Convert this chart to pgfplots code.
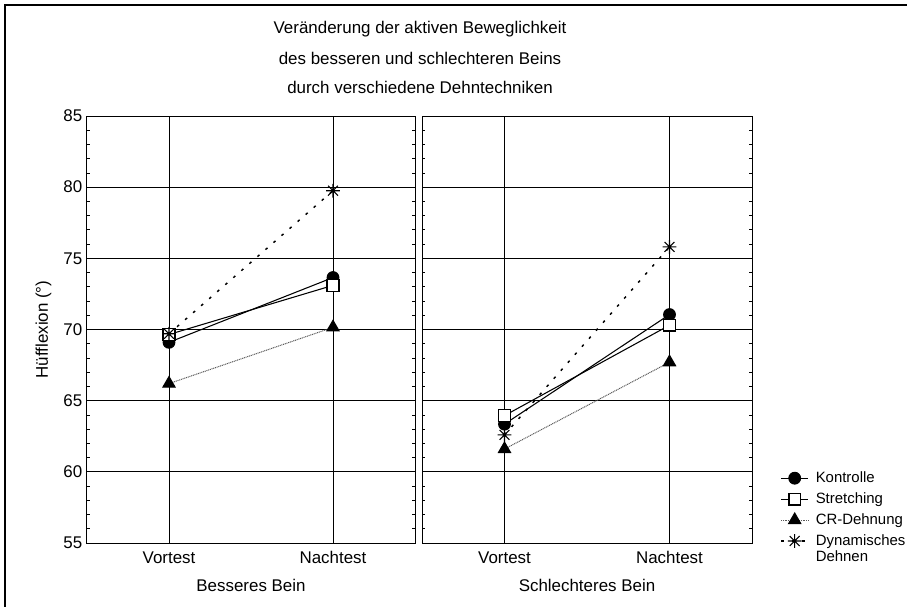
\documentclass[border=0pt]{standalone}
\usepackage{pgfplots}
\pgfplotsset{compat=1.18}
\usepackage{fontspec}
\setmainfont{Liberation Sans}
\newlength\px \setlength\px{0.75pt}
\pgfdeclareplotmark{ast8}{%
  \pgfpathmoveto{\pgfqpoint{-\pgfplotmarksize}{0pt}}\pgfpathlineto{\pgfqpoint{\pgfplotmarksize}{0pt}}%
  \pgfpathmoveto{\pgfqpoint{0pt}{-\pgfplotmarksize}}\pgfpathlineto{\pgfqpoint{0pt}{\pgfplotmarksize}}%
  \pgfpathmoveto{\pgfqpoint{-0.7071\pgfplotmarksize}{-0.7071\pgfplotmarksize}}\pgfpathlineto{\pgfqpoint{0.7071\pgfplotmarksize}{0.7071\pgfplotmarksize}}%
  \pgfpathmoveto{\pgfqpoint{-0.7071\pgfplotmarksize}{0.7071\pgfplotmarksize}}\pgfpathlineto{\pgfqpoint{0.7071\pgfplotmarksize}{-0.7071\pgfplotmarksize}}%
  \pgfusepathqstroke}
\newcommand\lblfont{\fontsize{12.7}{14}\selectfont}
\newcommand\legfont{\fontsize{11.2}{13}\selectfont}
\newcommand\ttlfont{\fontsize{12.7}{14}\selectfont}
\pgfplotsset{
  panel/.style={
    scale only axis, height=427\px,
    xmin=-0.5, xmax=1.5, ymin=55, ymax=85,
    xtick={0,1}, xticklabels={Vortest,Nachtest},
    ytick={55,60,...,85}, minor y tick num=4,
    grid=major, major grid style={black, line width=0.75pt},
    axis line style={line width=0.75pt},
    tick align=inside, major tick length=3\px, minor tick length=3\px,
    xtick style={draw=none},
    every tick/.style={black, line width=0.6pt},
    tick label style={font=\lblfont},
    label style={font=\lblfont},
    /pgf/number format/assume math mode=true,
    xticklabel style={yshift=-4\px},
    xlabel style={yshift=-6\px},
    ylabel style={yshift=3\px},
    clip=false,
  },
  kon/.style={black, line width=0.8pt, mark=*, mark size=4.4pt, mark options={solid}},
  str/.style={black, line width=0.8pt, mark=square*, mark size=4.4pt, mark options={solid, fill=white, line width=1.1pt}},
  crd/.style={black!65, line width=0.75pt, dash pattern=on 0.75pt off 0.6pt, mark=triangle*, mark size=5.3pt, mark options={solid, black, fill=black}},
  dyn/.style={black, line width=1.1pt, dash pattern=on 2pt off 6pt, mark=ast8, mark size=5.2pt, mark options={solid, line width=0.8pt}},
}
\begin{document}
\begin{tikzpicture}
\useasboundingbox (0,0) rectangle (907\px,-607\px);
\draw[line width=1.3pt] (5\px,-607\px) -- (5\px,-5\px) -- (907\px,-5\px);
\node[font=\ttlfont] at (420\px,-29\px) {Veränderung der aktiven Beweglichkeit};
\node[font=\ttlfont] at (420\px,-58\px) {des besseren und schlechteren Beins};
\node[font=\ttlfont] at (420\px,-87\px) {durch verschiedene Dehntechniken};

\begin{axis}[panel, at={(87\px,-116\px)}, anchor=north west, width=328\px,
  ylabel={Hüfflexion (°)}, xlabel={Besseres Bein}]
\addplot[kon] coordinates {(0,69.1) (1,73.65)};
\addplot[str] coordinates {(0,69.65) (1,73.1)};
\addplot[crd] coordinates {(0,66.2) (1,70.15)};
\addplot[dyn] coordinates {(0,69.7) (1,79.75)};
\end{axis}

\begin{axis}[panel, at={(422\px,-116\px)}, anchor=north west, width=330\px,
  yticklabels={}, xlabel={Schlechteres Bein},
  legend image code/.code={\draw[mark repeat=2,mark phase=2] plot coordinates {(0cm,0cm) (0.36cm,0cm) (0.72cm,0cm)};},
  legend style={at={(1.085,0.173)}, anchor=north west, draw=none, fill=none,
    font=\legfont, row sep=2.5pt, column sep=4pt, inner sep=0pt,
    nodes={inner sep=1pt, text height=8.7pt, text depth=2.5pt}},
  legend cell align=left]
\addplot[kon] coordinates {(0,63.35) (1,71.05)};
\addlegendentry{Kontrolle}
\addplot[str] coordinates {(0,63.95) (1,70.3)};
\addlegendentry{Stretching}
\addplot[crd] coordinates {(0,61.6) (1,67.7)};
\addlegendentry{CR-Dehnung}
\addplot[dyn] coordinates {(0,62.6) (1,75.8)};
\addlegendentry{\begin{tabular}[t]{@{}l@{}}Dynamisches\\[-1pt]Dehnen\end{tabular}}
\end{axis}
\end{tikzpicture}
\end{document}
